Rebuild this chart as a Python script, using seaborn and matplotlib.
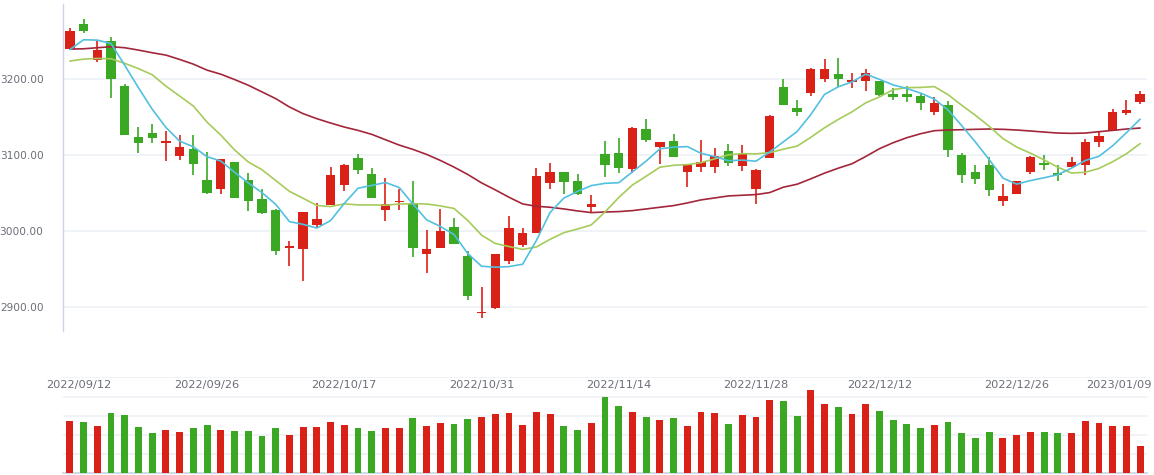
import numpy as np
import pandas as pd
import matplotlib
matplotlib.use("Agg")
import matplotlib.pyplot as plt
import matplotlib.transforms as mtrans
import seaborn as sns

# ---------------- data ----------------
open_ = [3238.7, 3271.7, 3224.2, 3249.3, 3189.9, 3122.6, 3127.9, 3115.1, 3098.0, 3106.8,
         3067.2, 3055.3, 3089.6, 3067.2, 3042.1, 3027.6, 2976.6, 2975.3, 3006.9, 3034.2,
         3059.7, 3094.9, 3073.8, 3027.6, 3037.3, 3034.7, 2968.7, 2976.6, 3005.2, 2966.9,
         2892.2, 2898.8, 2959.5, 2980.6, 2996.4, 3062.4, 3077.7, 3064.6, 3030.7, 3100.2,
         3101.5, 3080.8, 3133.2, 3109.9, 3117.3, 3076.9, 3083.5, 3083.5, 3104.1, 3084.8,
         3054.4, 3095.3, 3188.6, 3160.9, 3181.1, 3199.6, 3205.7, 3195.6, 3196.9, 3196.5,
         3179.3, 3179.3, 3176.7, 3156.0, 3164.8, 3098.9, 3077.7, 3085.7, 3038.6, 3047.8,
         3076.9, 3088.3, 3076.4, 3083.5, 3086.1, 3116.4, 3132.3, 3154.7, 3169.2]
high = [3266.4, 3278.3, 3249.7, 3254.5, 3192.5, 3135.8, 3139.8, 3130.5, 3125.2, 3125.2,
        3102.8, 3093.6, 3089.6, 3076.4, 3055.3, 3028.9, 2986.7, 3025.0, 3036.8, 3084.3,
        3087.0, 3100.2, 3081.7, 3069.8, 3055.3, 3064.6, 3001.2, 3028.9, 3017.1, 2973.5,
        2926.0, 2969.6, 3019.7, 3003.9, 3081.7, 3088.3, 3077.7, 3073.8, 3047.4, 3117.3,
        3121.3, 3135.8, 3146.4, 3116.0, 3126.6, 3086.1, 3118.6, 3108.1, 3113.4, 3112.0,
        3080.4, 3151.6, 3199.1, 3171.4, 3213.6, 3225.5, 3226.8, 3207.0, 3212.3, 3196.5,
        3187.2, 3189.9, 3179.3, 3175.4, 3170.1, 3101.5, 3085.7, 3096.2, 3061.9, 3065.9,
        3097.5, 3098.9, 3085.7, 3096.2, 3120.0, 3130.5, 3160.0, 3171.4, 3183.3]
low = [3237.4, 3260.2, 3221.5, 3174.1, 3125.2, 3101.5, 3114.7, 3091.4, 3092.3, 3072.5,
       3048.7, 3048.7, 3043.4, 3026.3, 3022.3, 2968.3, 2953.7, 2933.9, 3004.3, 3034.2,
       3052.7, 3073.8, 3043.4, 3013.1, 3027.6, 2965.6, 2944.5, 2976.6, 2981.9, 2909.3,
       2885.6, 2897.5, 2955.5, 2977.9, 2996.4, 3054.4, 3047.8, 3046.5, 3022.8, 3070.3,
       3075.6, 3075.6, 3116.4, 3087.4, 3096.7, 3057.1, 3076.9, 3075.6, 3084.8, 3078.2,
       3034.7, 3095.3, 3165.3, 3150.7, 3177.1, 3195.6, 3189.0, 3187.7, 3183.7, 3176.7,
       3171.9, 3169.2, 3158.7, 3152.1, 3096.7, 3062.4, 3061.0, 3045.2, 3032.0, 3047.8,
       3074.2, 3079.5, 3065.0, 3083.5, 3073.0, 3109.9, 3132.3, 3152.1, 3166.6]
close = [3262.4, 3262.9, 3237.4, 3199.1, 3125.2, 3115.1, 3121.7, 3117.3, 3109.4, 3087.4,
         3050.0, 3093.6, 3043.4, 3039.5, 3023.7, 2972.6, 2980.1, 3025.0, 3015.7, 3072.5,
         3085.7, 3079.5, 3043.4, 3035.5, 3039.5, 2976.6, 2976.2, 2999.9, 2981.9, 2914.6,
         2893.5, 2969.6, 3003.9, 2997.3, 3071.2, 3077.7, 3063.7, 3047.8, 3035.5, 3086.1,
         3082.1, 3134.5, 3119.1, 3116.0, 3096.7, 3086.1, 3090.1, 3098.0, 3088.7, 3100.6,
         3079.1, 3150.3, 3165.3, 3156.0, 3212.3, 3212.3, 3199.6, 3197.8, 3207.0, 3178.0,
         3175.8, 3175.8, 3167.9, 3167.5, 3105.9, 3073.0, 3067.6, 3053.1, 3046.1, 3065.9,
         3096.2, 3086.1, 3073.0, 3089.6, 3116.0, 3123.9, 3155.6, 3158.2, 3179.3]
volume = [2724, 2672, 2464, 3141, 3036, 2411, 2099, 2255, 2151, 2359,
          2516, 2255, 2203, 2203, 1943, 2359, 1995, 2411, 2411, 2672,
          2516, 2359, 2203, 2359, 2359, 2880, 2464, 2620, 2568, 2828,
          2932, 3089, 3141, 2516, 3193, 3089, 2464, 2255, 2620, 3974,
          3505, 3193, 2932, 2776, 2880, 2464, 3193, 3141, 2568, 3036,
          2932, 3818, 3766, 2984, 4339, 3609, 3453, 3089, 3609, 3245,
          2776, 2568, 2359, 2516, 2672, 2099, 1839, 2151, 1839, 1995,
          2151, 2151, 2099, 2099, 2724, 2620, 2464, 2464, 1422]
ma5 = [3238.0, 3251.0, 3250.5, 3246.0, 3217.4, 3187.9, 3159.7, 3135.7, 3117.7, 3110.2,
       3097.2, 3091.5, 3076.8, 3062.8, 3050.0, 3034.6, 3011.9, 3008.2, 3003.4, 3013.2,
       3035.8, 3055.7, 3059.4, 3063.3, 3056.7, 3034.9, 3014.2, 3005.5, 2994.8, 2969.8,
       2953.2, 2951.9, 2952.7, 2955.8, 2987.1, 3023.9, 3042.8, 3051.5, 3059.2, 3062.2,
       3063.0, 3077.2, 3091.5, 3107.6, 3109.7, 3110.5, 3101.6, 3097.4, 3091.9, 3092.7,
       3091.3, 3103.3, 3116.8, 3130.3, 3152.6, 3179.2, 3189.1, 3195.6, 3205.8, 3198.9,
       3191.6, 3186.9, 3180.9, 3173.0, 3158.6, 3138.0, 3116.4, 3093.4, 3069.1, 3061.1,
       3065.8, 3069.5, 3073.5, 3082.2, 3092.2, 3097.7, 3111.6, 3128.7, 3146.6]
ma10 = [3223.0, 3225.5, 3226.4, 3226.0, 3220.0, 3213.0, 3205.0, 3190.0, 3177.0, 3163.8,
        3142.6, 3125.6, 3106.2, 3090.3, 3080.1, 3065.9, 3051.7, 3042.5, 3033.1, 3031.6,
        3035.2, 3033.8, 3033.8, 3033.4, 3035.0, 3035.4, 3035.0, 3032.5, 3029.1, 3013.3,
        2994.1, 2983.1, 2979.1, 2975.3, 2978.5, 2988.6, 2997.3, 3002.1, 3007.5, 3024.6,
        3043.5, 3060.0, 3071.5, 3083.4, 3085.9, 3086.8, 3089.4, 3094.4, 3099.7, 3101.2,
        3100.9, 3102.5, 3107.1, 3111.1, 3122.7, 3135.3, 3146.2, 3156.2, 3168.0, 3175.8,
        3185.4, 3188.0, 3188.3, 3189.4, 3178.8, 3164.8, 3151.6, 3137.2, 3121.1, 3109.9,
        3101.9, 3092.9, 3083.4, 3075.7, 3076.7, 3081.8, 3090.6, 3101.1, 3114.4]
ma30 = [3238.7, 3239.1, 3240.5, 3241.8, 3240.5, 3237.4, 3233.9, 3230.8, 3225.1, 3218.9,
        3211.0, 3205.7, 3198.7, 3191.2, 3182.4, 3173.6, 3162.6, 3153.8, 3147.2, 3141.5,
        3136.2, 3131.8, 3126.6, 3119.5, 3112.5, 3106.8, 3100.2, 3092.3, 3083.5, 3073.8,
        3062.8, 3053.6, 3043.9, 3035.1, 3032.0, 3030.7, 3028.5, 3025.9, 3023.7, 3024.5,
        3025.0, 3026.3, 3028.5, 3030.7, 3032.9, 3036.4, 3040.4, 3043.0, 3045.6, 3046.5,
        3047.4, 3050.0, 3057.1, 3061.0, 3068.1, 3075.6, 3082.1, 3087.9, 3097.5, 3107.7,
        3115.6, 3122.2, 3127.4, 3131.4, 3132.3, 3132.7, 3133.2, 3133.6, 3133.2, 3132.3,
        3131.0, 3129.6, 3128.3, 3127.9, 3128.3, 3130.1, 3131.8, 3133.6, 3134.9]
tick_idx = [0, 10, 20, 30, 40, 50, 59, 69, 78]
tick_labels = ["2022/09/12", "2022/09/26", "2022/10/17", "2022/10/31", "2022/11/14",
               "2022/11/28", "2022/12/12", "2022/12/26", "2023/01/09"]
price_ticks = [2900, 3000, 3100, 3200]

# ---------------- style ----------------
RED = "#DA2118"
GREEN = "#3AA823"
C_MA5 = "#52C0DF"
C_MA10 = "#A6CB5B"
C_MA30 = "#A3263A"
GRID = "#EEF1F6"
AXIS = "#CAD4E6"
TXT = "#6B6E78"

sns.set_theme(style="white")
plt.rcParams["font.family"] = ["DejaVu Sans"]

n = len(close)
idx = np.arange(n)
df = pd.DataFrame({"idx": idx, "open": open_, "high": high, "low": low,
                   "close": close, "volume": volume,
                   "ma5": ma5, "ma10": ma10, "ma30": ma30})
df["dir"] = np.where(df["close"] >= df["open"], "up", "down")
palette = {"up": RED, "down": GREEN}

W, H = 1154, 475
fig = plt.figure(figsize=(W / 100, H / 100), dpi=100)
ax = fig.add_axes([63 / W, 1 - 331 / H, (1147 - 63) / W, (331 - 4) / H])
axv = fig.add_axes([63 / W, 1 - 473.3 / H, (1147 - 63) / W, 96 / H])

# ---------------- candles ----------------
for i, r in df.iterrows():
    col = palette[r["dir"]]
    ax.vlines(r["idx"], r["low"], r["high"], color=col, lw=1.2, zorder=2)
    lo = min(r["open"], r["close"])
    h = max(abs(r["close"] - r["open"]), 1.3)
    ax.bar(r["idx"], h, bottom=lo, width=0.68, color=col, lw=0, zorder=3)

for col_name, c in (("ma30", C_MA30), ("ma10", C_MA10), ("ma5", C_MA5)):
    sns.lineplot(data=df, x="idx", y=col_name, ax=ax, color=c, lw=1.2,
                 legend=False, zorder=4)

ax.set_xlim(-0.5, n - 0.5)
ax.set_ylim(2868, 3298)
ax.set_yticks(price_ticks)
ax.set_yticklabels([f"{v:.2f}" for v in price_ticks])
ax.set_xticks([])
ax.set_xlabel("")
ax.set_ylabel("")
ax.grid(axis="y", color=GRID, lw=1.3, zorder=0)
ax.set_axisbelow(True)
for s in ("top", "right", "bottom"):
    ax.spines[s].set_visible(False)
ax.spines["left"].set_color(AXIS)
ax.spines["left"].set_linewidth(1.0)
ax.tick_params(axis="y", length=0, pad=14, labelsize=7.6, labelcolor=TXT)

# ---------------- volume ----------------
sns.barplot(data=df, x="idx", y="volume", hue="dir", palette=palette, dodge=False,
            width=0.5, saturation=1, linewidth=0, legend=False, ax=axv, zorder=3)
axv.set_xlim(-0.5, n - 0.5)
axv.set_ylim(0, 5000)
axv.set_yticks([1000, 2000, 3000, 4000, 5000])
axv.set_yticklabels([])
axv.set_xticks([])
axv.set_xlabel("")
axv.set_ylabel("")
axv.grid(axis="y", color=GRID, lw=1.3, zorder=0)
axv.set_axisbelow(True)
for s in ("top", "right", "left"):
    axv.spines[s].set_visible(False)
axv.spines["bottom"].set_color(AXIS)
axv.spines["bottom"].set_linewidth(1.2)
axv.tick_params(length=0)

trans = mtrans.blended_transform_factory(axv.transData, axv.transAxes)
last = len(tick_idx) - 1
for k, (ti, tl) in enumerate(zip(tick_idx, tick_labels)):
    tr = trans
    ha = "center"
    if k == 0:
        tr = trans + mtrans.ScaledTranslation(8.7 / 100, 0, fig.dpi_scale_trans)
    if k == last:
        # keep the last label inside the canvas (right-aligned at the edge)
        ha = "right"
        tr = trans + mtrans.ScaledTranslation(12 / 100, 0, fig.dpi_scale_trans)
    axv.text(ti, 0.923, tl, transform=tr, ha=ha, va="center",
             fontsize=8.2, color=TXT, zorder=5, clip_on=False)

fig.savefig("out.png", dpi=100, facecolor="white")
